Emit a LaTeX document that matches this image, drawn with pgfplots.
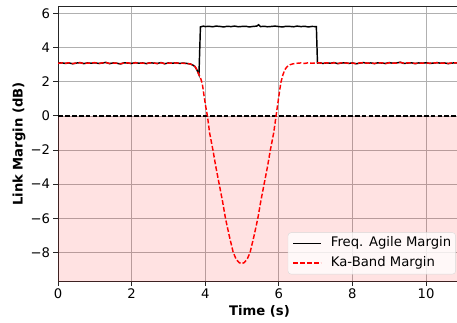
\documentclass[border=0pt]{standalone}
\usepackage{fontspec}
\setmainfont{DejaVu Sans}
\usepackage{pgfplots}
\pgfplotsset{compat=1.18}
\definecolor{gridc}{HTML}{B0B0B0}
\newcommand{\fs}{\fontsize{13.2}{15.5}\selectfont}
\begin{document}
\begin{tikzpicture}
\begin{axis}[
  at={(0,0)}, anchor=south west,
  scale only axis, width=403pt, height=274pt,
  xmin=0, xmax=10.95, ymin=-9.68, ymax=6.39,
  xtick={0,2,4,6,8,10}, ytick={-8,-6,-4,-2,0,2,4,6},
  yticklabels={−8,−6,−4,−2,0,2,4,6},
  grid=major, grid style={gridc, line width=0.9pt},
  axis line style={black!85, line width=1pt},
  tick align=outside, major tick length=4.5pt,
  tick style={black!85, line width=1pt},
  tick pos=left,
  ticklabel style={font=\fs},
  /pgf/number format/assume math mode=true,
  xlabel={Time (s)}, ylabel={Link Margin (dB)},
  label style={font=\fs\bfseries},
  xlabel style={at={(axis description cs:0.5,-0.1095)}, anchor=center},
  ylabel style={at={(axis description cs:-0.0968,0.5)}, anchor=center},
  legend style={at={(0.987,0.0245)}, anchor=south east, draw=black!15,
    rounded corners=3pt, fill=white, fill opacity=0.8, text opacity=1,
    font=\fs, inner xsep=4.4pt, inner ysep=4.4pt, row sep=6.2pt, column sep=9.5pt,
    nodes={inner sep=0pt, text height=9.9pt, text depth=3.3pt},
    cells={anchor=west}},
  legend cell align=left,
  legend image code/.code={\draw[#1] (0pt,0pt) -- (27.6pt,0pt);},
]
\addplot[draw=none, fill=red, fill opacity=0.115, forget plot]
  coordinates {(-1,0) (12,0) (12,-11) (-1,-11)} -- cycle;
\addplot[black, line width=1.4pt, dash pattern=on 4.8pt off 2.1pt, forget plot]
  coordinates {(0,0) (11,0)};
\addplot[black, line width=1.45pt] coordinates {
(0,3.10) (0.1,3.12) (0.2,3.08) (0.3,3.11) (0.4,3.06) (0.5,3.10) (0.6,3.13) (0.7,3.07)
(0.8,3.11) (0.9,3.09) (1.0,3.12) (1.1,3.08) (1.2,3.10) (1.3,3.14) (1.4,3.07) (1.5,3.11)
(1.6,3.09) (1.7,3.05) (1.8,3.12) (1.9,3.10) (2.0,3.08) (2.1,3.13) (2.2,3.09) (2.3,3.11)
(2.4,3.07) (2.5,3.12) (2.6,3.10) (2.7,3.08) (2.8,3.13) (2.9,3.06) (3.0,3.11) (3.1,3.09)
(3.2,3.12) (3.3,3.08) (3.4,3.10) (3.5,3.08) (3.59,3.05) (3.66,2.99) (3.72,2.90) (3.77,2.72)
(3.83,2.42) (3.87,5.22) (3.95,5.27) (4.0,5.24) (4.1,5.26) (4.2,5.23) (4.3,5.27) (4.4,5.25)
(4.5,5.22) (4.6,5.26) (4.7,5.24) (4.8,5.27) (4.9,5.23) (5.0,5.25) (5.1,5.26) (5.2,5.22)
(5.3,5.25) (5.4,5.27) (5.45,5.35) (5.5,5.24) (5.6,5.26) (5.7,5.23) (5.8,5.25) (5.9,5.27)
(6.0,5.24) (6.1,5.22) (6.2,5.26) (6.3,5.25) (6.4,5.23) (6.5,5.27) (6.6,5.24) (6.7,5.26)
(6.8,5.22) (6.9,5.25) (7.02,5.24) (7.05,3.10) (7.1,3.12) (7.2,3.08) (7.3,3.11) (7.4,3.09)
(7.5,3.13) (7.6,3.07) (7.7,3.10) (7.8,3.12) (7.9,3.08) (8.0,3.11) (8.1,3.06) (8.2,3.10)
(8.3,3.13) (8.4,3.09) (8.5,3.11) (8.6,3.07) (8.7,3.12) (8.8,3.10) (8.9,3.08) (9.0,3.13)
(9.1,3.09) (9.2,3.11) (9.3,3.15) (9.4,3.08) (9.5,3.10) (9.6,3.12) (9.7,3.07) (9.8,3.11)
(9.9,3.09) (10.0,3.12) (10.1,3.08) (10.2,3.10) (10.3,3.13) (10.4,3.09) (10.5,3.11)
(10.6,3.07) (10.7,3.10) (10.8,3.12) (10.9,3.09) (11.0,3.10)
};
\addlegendentry{Freq. Agile Margin}
\addplot[red, line width=1.45pt, dash pattern=on 4.8pt off 2.1pt] coordinates {
(0,3.09) (0.1,3.11) (0.2,3.09) (0.3,3.12) (0.4,3.07) (0.5,3.11) (0.6,3.12) (0.7,3.08)
(0.8,3.10) (0.9,3.10) (1.0,3.13) (1.1,3.07) (1.2,3.11) (1.3,3.13) (1.4,3.08) (1.5,3.10)
(1.6,3.10) (1.7,3.06) (1.8,3.11) (1.9,3.11) (2.0,3.07) (2.1,3.12) (2.2,3.10) (2.3,3.10)
(2.4,3.08) (2.5,3.11) (2.6,3.11) (2.7,3.07) (2.8,3.12) (2.9,3.07) (3.0,3.10) (3.1,3.10)
(3.2,3.11) (3.3,3.09) (3.4,3.09) (3.5,3.08) (3.59,3.05) (3.66,2.99) (3.72,2.90) (3.77,2.72)
(3.83,2.42) (3.88,2.18) (3.92,1.90) (3.96,1.30) (4.01,0.60) (4.06,0.00) (4.12,-1.00)
(4.21,-2.00) (4.29,-3.00) (4.38,-4.00) (4.47,-5.00) (4.55,-6.00) (4.65,-7.00) (4.76,-8.00)
(4.84,-8.40) (4.92,-8.60) (4.99,-8.67) (5.06,-8.60) (5.14,-8.40) (5.22,-8.00) (5.33,-7.00)
(5.43,-6.00) (5.51,-5.00) (5.60,-4.00) (5.69,-3.00) (5.77,-2.00) (5.86,-1.00) (5.925,0.00)
(5.99,1.00) (6.03,1.60) (6.06,2.00) (6.11,2.40) (6.16,2.70) (6.22,2.88) (6.30,3.00)
(6.39,3.06) (6.5,3.09) (6.6,3.11) (6.7,3.08) (6.8,3.12) (6.9,3.09) (7.0,3.11)
(7.1,3.11) (7.2,3.09) (7.3,3.12) (7.4,3.08) (7.5,3.12) (7.6,3.08) (7.7,3.11) (7.8,3.11)
(7.9,3.09) (8.0,3.10) (8.1,3.07) (8.2,3.11) (8.3,3.12) (8.4,3.10) (8.5,3.10) (8.6,3.08)
(8.7,3.11) (8.8,3.11) (8.9,3.07) (9.0,3.12) (9.1,3.10) (9.2,3.10) (9.3,3.14) (9.4,3.09)
(9.5,3.11) (9.6,3.11) (9.7,3.08) (9.8,3.10) (9.9,3.10) (10.0,3.11) (10.1,3.09) (10.2,3.11)
(10.3,3.12) (10.4,3.10) (10.5,3.10) (10.6,3.08) (10.7,3.11) (10.8,3.11) (10.9,3.10) (11.0,3.09)
};
\addlegendentry{Ka-Band Margin}
\end{axis}
\pgfresetboundingbox
\useasboundingbox (-58pt,-41pt) rectangle (399pt,281pt);
\end{tikzpicture}
\end{document}
